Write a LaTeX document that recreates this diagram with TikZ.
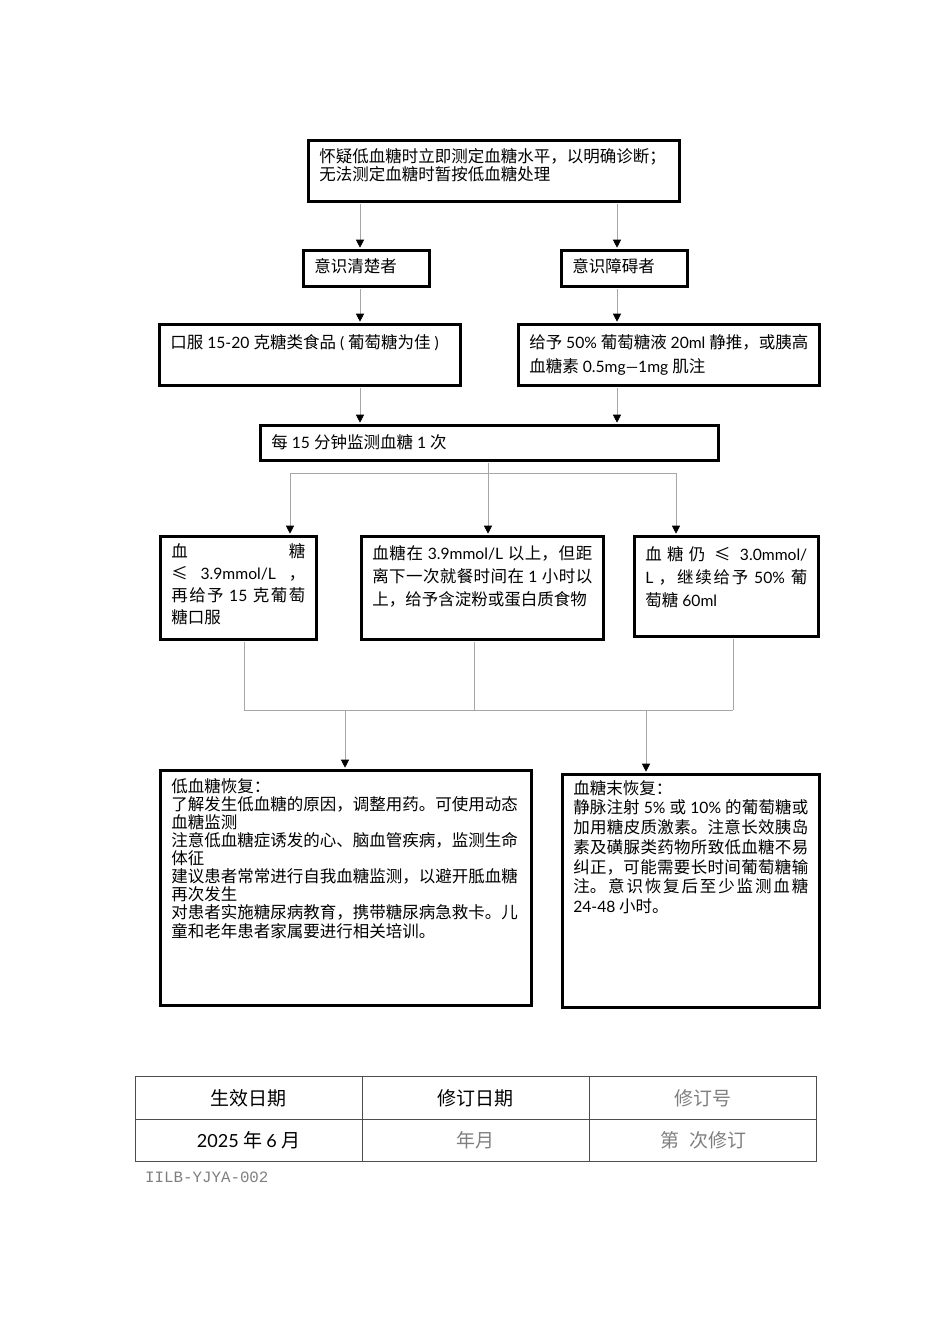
\documentclass[tikz,border=0pt]{standalone}
\usepackage{fontspec}
\setmainfont{Lato}
\newfontfamily\cjk{Noto Sans CJK SC}
\newfontfamily\en{Lato}[Scale=0.95]
\newfontfamily\code{Liberation Mono}
\usetikzlibrary{arrows.meta,positioning,calc}
\definecolor{linkgray}{HTML}{A6A6A6}
\definecolor{rulegray}{HTML}{4D4D4D}
\definecolor{faint}{HTML}{7F7F7F}
\XeTeXlinebreaklocale "zh"
\XeTeXlinebreakskip=0pt plus 2pt
% text block: width, height, line spacing, text
\newcommand{\boxtext}[4]{\parbox[c][#2][t]{#1}{\fontsize{16.5}{#3}\selectfont #4}}
% latin run with a space on each side
\newcommand{\la}[1]{{\en\ \mbox{#1}\ }}

\begin{document}
\begin{tikzpicture}[x=1pt,y=-1pt]
  \tikzset{
    flowbox/.style={draw, line width=2.6pt, anchor=north west, inner xsep=11pt, inner ysep=8pt, font=\cjk},
    link/.style={draw=linkgray, line width=0.8pt, shorten >=1.3pt, -{Triangle[width=8pt,length=8pt,color=black]}},
    tap/.style={shorten <=1.3pt},
    wire/.style={draw=linkgray, line width=0.8pt},
    cell/.style={draw=rulegray, line width=0.8pt, minimum width=227pt, minimum height=42.5pt, inner sep=0pt, font=\cjk\fontsize{19}{22}\selectfont},
  }
  \useasboundingbox (0,0) rectangle (950,1344);

  % Check and split by consciousness
  \node[flowbox] (top) at (307,139) {\boxtext{349pt}{45pt}{18pt}{怀疑低血糖时立即测定血糖水平，以明确诊断；\\无法测定血糖时暂按低血糖处理}};
  \node[flowbox] (clear) at (302,249) {\boxtext{104pt}{20pt}{18pt}{意识清楚者}};
  \node[flowbox] (impaired) at (560,249) {\boxtext{104pt}{20pt}{18pt}{意识障碍者}};

  % Treatment
  \node[flowbox, inner ysep=10pt] (oral) at (158,323) {\boxtext{279pt}{41pt}{24pt}{口服\la{15-20}克糖类食品\la{(}葡萄糖为佳\la{)}}};
  \node[flowbox, inner ysep=10pt] (iv) at (517,323) {\boxtext{279pt}{41pt}{24pt}{给予\la{50\%}葡萄糖液\la{20ml}静推，或胰高\\血糖素\la{0.5mg—1mg}肌注}};
  \node[flowbox, inner ysep=9pt] (monitor) at (259,424) {\boxtext{436pt}{17pt}{18pt}{每\la{15}分钟监测血糖\la{1}次}};

  % Outcomes after 15 min
  \node[flowbox, inner ysep=7pt] (low) at (159,535) {\boxtext{134pt}{89pt}{22pt}{血糖\linebreak ≤\la{3.9mmol/L}，\linebreak 再给予\la{15}克葡萄\linebreak 糖口服}};
  \node[flowbox, inner ysep=9pt] (meal) at (360,535) {\boxtext{220pt}{85pt}{23pt}{血糖在\la{3.9mmol/L}以上，但距\linebreak 离下一次就餐时间在\la{1}小时以\linebreak 上，给予含淀粉或蛋白质食物}};
  \node[flowbox, inner ysep=10pt] (still) at (633,535) {\boxtext{162pt}{80pt}{23pt}{血糖仍 ≤\la{3.0mmol/}\linebreak {\en L}\ ，继续给予\la{50\%}葡\linebreak 萄糖\la{60ml}}};

  % Recovered / not recovered
  \node[flowbox] (recovered) at (159,769) {\boxtext{349pt}{219pt}{18.1pt}{低血糖恢复：\\
    了解发生低血糖的原因，调整用药。可使用动态\\
    血糖监测\\
    注意低血糖症诱发的心、脑血管疾病，监测生命\\
    体征\\
    建议患者常常进行自我血糖监测，以避开胝血糖\\
    再次发生\\
    对患者实施糖尿病教育，携带糖尿病急救卡。儿\\
    童和老年患者家属要进行相关培训。}};
  \node[flowbox, inner ysep=6pt] (unrecovered) at (561,773) {\boxtext{235pt}{221pt}{19.7pt}{血糖末恢复：\\
    静脉注射\la{5\%}或\la{10\%}的葡萄糖或\linebreak
    加用糖皮质激素。注意长效胰岛\linebreak
    素及磺脲类药物所致低血糖不易\linebreak
    纠正，可能需要长时间葡萄糖输\linebreak
    注。意识恢复后至少监测血糖\linebreak
    {\en 24-48}\ 小时。}};

  % Connector columns
  \coordinate (lx) at (360,0);
  \coordinate (rx) at (617,0);
  \coordinate (ax) at (290,0);
  \coordinate (bx) at (488,0);
  \coordinate (cx) at (676,0);
  \coordinate (fork) at (0,473);
  \coordinate (ja) at (244,0);
  \coordinate (jb) at (474,0);
  \coordinate (jc) at (733,0);
  \coordinate (join) at (0,710);
  \coordinate (dx) at (345,0);
  \coordinate (ex) at (646,0);

  \draw[link,tap] (top.south -| lx) -- (clear.north -| lx);
  \draw[link,tap] (top.south -| rx) -- (impaired.north -| rx);
  \draw[link,tap] (clear.south -| lx) -- (oral.north -| lx);
  \draw[link,tap] (impaired.south -| rx) -- (iv.north -| rx);
  \draw[link,tap] (oral.south -| lx) -- (monitor.north -| lx);
  \draw[link,tap] (iv.south -| rx) -- (monitor.north -| rx);

  \draw[link,tap] (monitor.south -| bx) -- (meal.north -| bx);
  \draw[wire] (fork -| ax) -- (fork -| cx);
  \draw[link] (fork -| ax) -- (low.north -| ax);
  \draw[link] (fork -| cx) -- (still.north -| cx);

  \draw[wire,tap] (low.south -| ja) -- (join -| ja) -- (join -| jc);
  \draw[wire,tap] (still.south -| jc) -- (join -| jc);
  \draw[wire,tap] (meal.south -| jb) -- (join -| jb);
  \draw[link] (join -| dx) -- (recovered.north -| dx);
  \draw[link] (join -| ex) -- (unrecovered.north -| ex);

  % Revision table
  \node[cell] (effhead) at (248.5,1098) {生效日期};
  \node[cell] (revhead) at (475.5,1098) {修订日期};
  \node[cell, text=faint] (nohead) at (703,1098) {修订号};
  \node[cell] (effdate) at (248.5,1140.5) {{\en 2025}\ 年\ {\en 6}\ 月};
  \node[cell, text=faint] (revdate) at (475.5,1140.5) {年月};
  \node[cell, text=faint] (revno) at (703,1140.5) {第\hspace{10pt}次修订};
  \node[anchor=west, inner sep=0pt, text=faint, font=\code\fontsize{15.8}{18}\selectfont] (docid) at (145,1177) {IILB-YJYA-002};
\end{tikzpicture}
\end{document}
